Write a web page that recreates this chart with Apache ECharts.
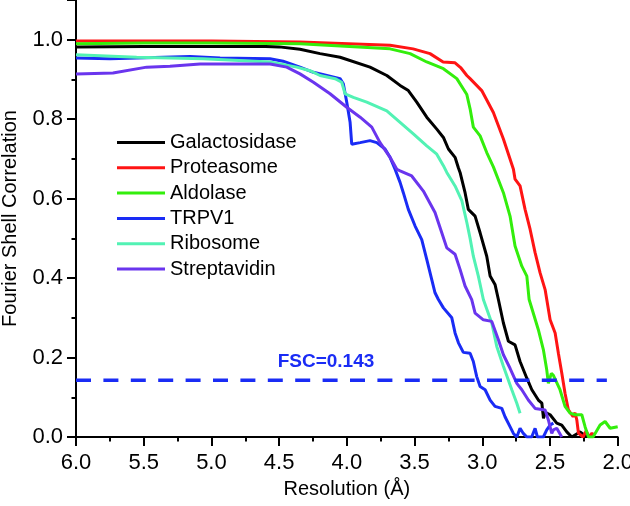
<!DOCTYPE html>
<html>
<head>
<meta charset="utf-8">
<script src="https://cdn.jsdelivr.net/npm/echarts@6.0.0/dist/echarts.min.js"></script>
<style>
	html, body { margin: 0; padding: 0; background: #fff; }
	#chart { width: 630px; height: 506px; }
</style>
</head>
<body>
<div id="chart"></div>
<script>
// curve names, in legend order
var names = ['Galactosidase', 'Proteasome', 'Aldolase', 'TRPV1', 'Ribosome', 'Streptavidin'];
var colors = ['#000000', '#ff1414', '#33ee0c', '#1a2cf5', '#52f2b4', '#6a35ee'];

// [resolution (A), FSC]
var galactosidase = [[6.0,0.982],[5.5,0.983],[5.0,0.983],[4.6,0.983],[4.5,0.982],[4.346,0.976],[4.198,0.965],[4.05,0.956],
	[3.829,0.931],[3.705,0.910],[3.607,0.885],[3.546,0.872],[3.484,0.843],[3.41,0.805],[3.336,0.775],[3.287,0.754],
	[3.25,0.725],[3.201,0.704],[3.176,0.677],[3.164,0.666],[3.127,0.615],[3.103,0.573],[3.053,0.556],[3.016,0.514],
	[2.967,0.455],[2.942,0.405],[2.906,0.384],[2.881,0.346],[2.844,0.287],[2.807,0.241],[2.758,0.232],[2.721,0.19],
	[2.671,0.148],[2.634,0.119],[2.586,0.093],[2.56,0.085],[2.548,0.047],[2.535,0.062],[2.499,0.056],[2.45,0.035],
	[2.413,0.03],[2.376,0.013],[2.339,0.0],[2.30,0.008],[2.278,0.013],[2.228,0.0]];
var proteasome = [[6.0,0.997],[5.0,0.997],[4.346,0.994],[3.681,0.986],[3.511,0.977],[3.386,0.965],[3.289,0.944],
	[3.201,0.942],[3.16,0.93],[3.114,0.91],[3.09,0.902],[3.004,0.872],[2.918,0.817],[2.844,0.75],[2.77,0.674],
	[2.758,0.649],[2.721,0.632],[2.684,0.573],[2.647,0.523],[2.61,0.464],[2.573,0.413],[2.536,0.371],[2.499,0.295],
	[2.462,0.262],[2.438,0.211],[2.413,0.161],[2.389,0.11],[2.364,0.068],[2.329,0.051],[2.315,0.061],[2.302,0.043],
	[2.29,0.01],[2.256,0.0],[2.233,0.015],[2.21,0.0],[2.19,0.01],[2.175,0.0]];
var aldolase = [[6.0,0.99],[5.5,0.992],[5.0,0.992],[4.346,0.99],[3.681,0.977],[3.533,0.965],[3.41,0.944],[3.287,0.927],
	[3.188,0.902],[3.114,0.862],[3.09,0.826],[3.066,0.78],[3.016,0.758],[2.967,0.716],[2.918,0.68],[2.844,0.615],
	[2.795,0.556],[2.758,0.481],[2.708,0.43],[2.671,0.405],[2.654,0.346],[2.586,0.27],[2.549,0.22],[2.524,0.169],
	[2.512,0.135],[2.49,0.16],[2.475,0.155],[2.426,0.119],[2.389,0.077],[2.352,0.06],[2.315,0.056],[2.265,0.056],
	[2.241,0.026],[2.216,0.0],[2.182,0.0],[2.13,0.03],[2.093,0.039],[2.056,0.022],[2.0,0.026]];
var trpv1 = [[6.0,0.954],[5.749,0.952],[5.158,0.958],[4.936,0.954],[4.567,0.952],[4.471,0.946],[4.346,0.931],[4.247,0.918],
	[4.148,0.91],[4.05,0.902],[4.026,0.889],[4.001,0.843],[3.976,0.792],[3.964,0.737],[3.902,0.741],[3.829,0.746],
	[3.779,0.741],[3.718,0.725],[3.681,0.704],[3.644,0.674],[3.607,0.641],[3.583,0.615],[3.546,0.573],[3.496,0.531],
	[3.447,0.497],[3.41,0.447],[3.373,0.396],[3.349,0.363],[3.324,0.346],[3.287,0.325],[3.225,0.30],[3.201,0.262],
	[3.176,0.237],[3.14,0.213],[3.09,0.211],[3.066,0.19],[3.041,0.152],[3.016,0.127],[2.979,0.119],[2.942,0.093],
	[2.906,0.077],[2.856,0.072],[2.832,0.051],[2.795,0.026],[2.77,0.009],[2.745,0.0],[2.721,0.022],[2.697,0.009],
	[2.671,0.0],[2.635,0.0],[2.61,0.022],[2.593,0.0],[2.549,0.0],[2.524,0.018],[2.499,0.03],[2.475,0.035]];
var ribosome = [[6.0,0.962],[5.552,0.956],[5.062,0.952],[4.567,0.944],[4.37,0.931],[4.272,0.922],[4.198,0.91],
	[4.087,0.902],[4.038,0.893],[4.013,0.864],[3.952,0.855],[3.853,0.843],[3.705,0.821],[3.607,0.792],[3.509,0.763],
	[3.41,0.733],[3.336,0.712],[3.287,0.683],[3.262,0.666],[3.201,0.632],[3.151,0.595],[3.114,0.54],[3.09,0.5],
	[3.066,0.455],[3.029,0.405],[2.992,0.346],[2.93,0.287],[2.893,0.228],[2.844,0.178],[2.782,0.119],[2.745,0.085],
	[2.721,0.06]];
var streptavidin = [[6.0,0.914],[5.727,0.916],[5.478,0.931],[5.306,0.933],[5.084,0.939],[4.567,0.939],[4.444,0.931],
	[4.346,0.914],[4.247,0.893],[4.124,0.864],[4.001,0.83],[3.902,0.805],[3.816,0.78],[3.755,0.741],[3.681,0.704],
	[3.631,0.674],[3.607,0.67],[3.521,0.657],[3.435,0.619],[3.349,0.565],[3.299,0.514],[3.262,0.476],[3.201,0.46],
	[3.164,0.422],[3.127,0.38],[3.078,0.346],[3.053,0.312],[2.992,0.295],[2.93,0.291],[2.881,0.245],[2.844,0.207],
	[2.795,0.173],[2.745,0.135],[2.708,0.119],[2.66,0.093],[2.61,0.072],[2.536,0.068],[2.512,0.043],[2.487,0.009],
	[2.475,0.018],[2.45,0.022],[2.413,0.0]];

var curves = [galactosidase, proteasome, aldolase, trpv1, ribosome, streptavidin];

// FSC threshold line
var fscValue = 0.143;
var fscLine = [[6.0, fscValue], [2.08, fscValue]];
var fscLabelAt = [4.154, 0.19];

var font = 'Liberation Sans, Arial, sans-serif';
var blue = '#1a2cf5';

function buildSeries() {
	var list = [];
	for (var i = 0; i < names.length; i++) {
		list.push({
			name: names[i],
			type: 'line',
			data: curves[i],
			symbol: 'none',
			smooth: false,
			silent: true,
			lineStyle: { width: 3, color: colors[i] },
			itemStyle: { color: colors[i] }
		});
	}
	list.push({
		name: 'FSC',
		type: 'line',
		data: fscLine,
		symbol: 'none',
		silent: true,
		lineStyle: { width: 3.5, color: blue, type: [15, 12.4] },
		markPoint: {
			symbol: 'circle',
			symbolSize: 0,
			silent: true,
			data: [{ coord: fscLabelAt }],
			label: {
				show: true,
				position: [0, 0],
				align: 'center',
				verticalAlign: 'middle',
				formatter: 'FSC=' + fscValue,
				color: blue,
				fontFamily: font,
				fontWeight: 'bold',
				fontSize: 19
			}
		}
	});
	return list;
}

var chart = echarts.init(document.getElementById('chart'), null, { renderer: 'canvas' });
chart.setOption({
	animation: false,
	backgroundColor: '#ffffff',
	grid: { left: 76, right: 12.3, top: 0, bottom: 69, containLabel: false, outerBoundsMode: 'none' },
	legend: {
		data: names,
		orient: 'vertical',
		left: 117,
		top: 130,
		padding: 0,
		icon: 'rect',
		itemWidth: 48,
		itemHeight: 3,
		itemGap: 0.3,
		selectedMode: false,
		textStyle: { fontFamily: font, fontSize: 20, color: '#000', lineHeight: 25 }
	},
	xAxis: {
		type: 'value',
		inverse: true,
		min: 2,
		max: 6,
		interval: 0.5,
		name: 'Resolution (\u00c5)',
		nameLocation: 'middle',
		nameGap: 42,
		nameTextStyle: { fontFamily: font, fontSize: 20, color: '#000' },
		axisLine: { show: true, onZero: false, lineStyle: { color: '#000', width: 2 } },
		axisTick: { show: true, inside: false, length: 9, lineStyle: { color: '#000', width: 2 } },
		minorTick: { show: true, splitNumber: 2, length: 4.5, lineStyle: { color: '#000', width: 2 } },
		splitLine: { show: false },
		axisLabel: {
			margin: 15,
			fontFamily: font,
			fontSize: 22,
			color: '#000',
			formatter: function(v) { return v.toFixed(1); }
		}
	},
	yAxis: {
		type: 'value',
		min: 0,
		max: 1.1,
		interval: 0.2,
		name: 'Fourier Shell Correlation',
		nameLocation: 'middle',
		nameGap: 56,
		nameTextStyle: { fontFamily: font, fontSize: 20, color: '#000' },
		axisLine: { show: true, lineStyle: { color: '#000', width: 2 } },
		axisTick: { show: true, inside: false, length: 9, lineStyle: { color: '#000', width: 2 } },
		minorTick: { show: true, splitNumber: 2, length: 4.5, lineStyle: { color: '#000', width: 2 } },
		splitLine: { show: false },
		axisLabel: {
			margin: 13,
			showMaxLabel: false,
			fontFamily: font,
			fontSize: 22,
			color: '#000',
			formatter: function(v) { return v.toFixed(1); }
		}
	},
	series: buildSeries()
});
</script>
</body>
</html>
